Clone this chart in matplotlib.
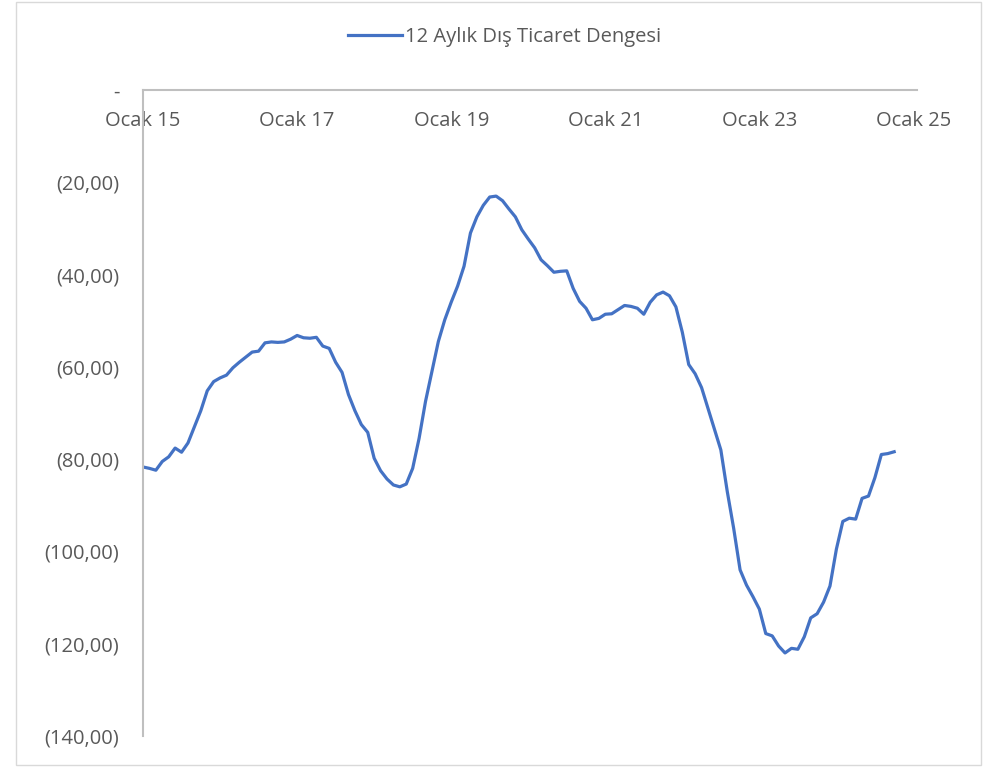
import matplotlib.pyplot as plt
from matplotlib.patches import Rectangle
from matplotlib.ticker import FuncFormatter

# 12-month foreign trade balance, monthly from Ocak 2015
values = [
    -81.7, -82.0, -82.4, -80.5, -79.5, -77.6, -78.5, -76.5, -73.0, -69.5,
    -65.2, -63.2, -62.4, -61.8, -60.2, -59.0, -57.9, -56.8, -56.6, -54.8,
    -54.6, -54.7, -54.6, -54.0, -53.2, -53.7, -53.8, -53.6, -55.5, -56.0,
    -59.0, -61.2, -66.0, -69.5, -72.5, -74.2, -79.8, -82.5, -84.3, -85.6,
    -86.0, -85.4, -82.0, -75.5, -67.5, -61.0, -54.5, -49.8, -46.0, -42.5,
    -38.2, -31.0, -27.5, -25.0, -23.2, -23.0, -24.0, -25.8, -27.5, -30.3,
    -32.3, -34.2, -36.8, -38.1, -39.5, -39.3, -39.2, -43.0, -45.8, -47.3,
    -49.8, -49.5, -48.6, -48.5, -47.6, -46.7, -46.9, -47.3, -48.6, -46.0,
    -44.4, -43.8, -44.6, -47.0, -52.5, -59.5, -61.5, -64.5, -69.0, -73.5,
    -78.0, -87.0, -95.0, -104.0, -107.3, -109.8, -112.5, -117.8, -118.3, -120.5,
    -122.0, -121.0, -121.2, -118.5, -114.4, -113.5, -111.0, -107.5, -99.5, -93.5,
    -92.8, -93.0, -88.5, -88.0, -84.0, -79.0, -78.8, -78.4,
]
months = list(range(len(values)))
tick_pos = [0, 24, 48, 72, 96, 120]
tick_labels = ['Ocak 15', 'Ocak 17', 'Ocak 19', 'Ocak 21', 'Ocak 23', 'Ocak 25']
y_ticks = [0, -20, -40, -60, -80, -100, -120, -140]

plt.rcParams['font.family'] = ['Open Sans', 'DejaVu Sans']
grey = '#595959'
fs = 14.5

fig = plt.figure(figsize=(9.83, 7.67), dpi=100)
ax = fig.add_axes([0.1455, 0.0404, 0.787, 0.8423])

ax.plot(months, values, color='#4472C4', linewidth=2.3,
        label='12 Aylık Dış Ticaret Dengesi', solid_joinstyle='round')

ax.set_xlim(0, 120.5)
ax.set_ylim(-140, 0)

ax.set_xticks(tick_pos)
ax.set_xticklabels(tick_labels)
ax.set_yticks(y_ticks)


def fmt(v, pos):
    if abs(v) < 1e-9:
        return '-'
    s = f'{abs(v):.2f}'.replace('.', ',')
    return f'({s})' if v < 0 else s


ax.yaxis.set_major_formatter(FuncFormatter(fmt))

for side in ['top', 'right']:
    ax.spines[side].set_visible(False)
ax.spines['bottom'].set_position(('data', 0))
ax.spines['bottom'].set_color('#BFBFBF')
ax.spines['bottom'].set_linewidth(1.5)
ax.spines['left'].set_color('#BFBFBF')
ax.spines['left'].set_linewidth(1.5)

ax.tick_params(axis='x', length=0, pad=15, labelsize=fs, labelcolor=grey)
ax.tick_params(axis='y', length=0, pad=17, labelsize=fs, labelcolor=grey)

fig.legend(loc='center', bbox_to_anchor=(0.513, 0.952), frameon=False,
           fontsize=fs, labelcolor=grey, handlelength=2.7, handletextpad=0.15)

# chart-area border
fig.patches.append(Rectangle((0.016, 0.003), 0.982, 0.995, transform=fig.transFigure,
                             fill=False, edgecolor='#D9D9D9', linewidth=1))

fig.savefig('out.png', dpi=100)
